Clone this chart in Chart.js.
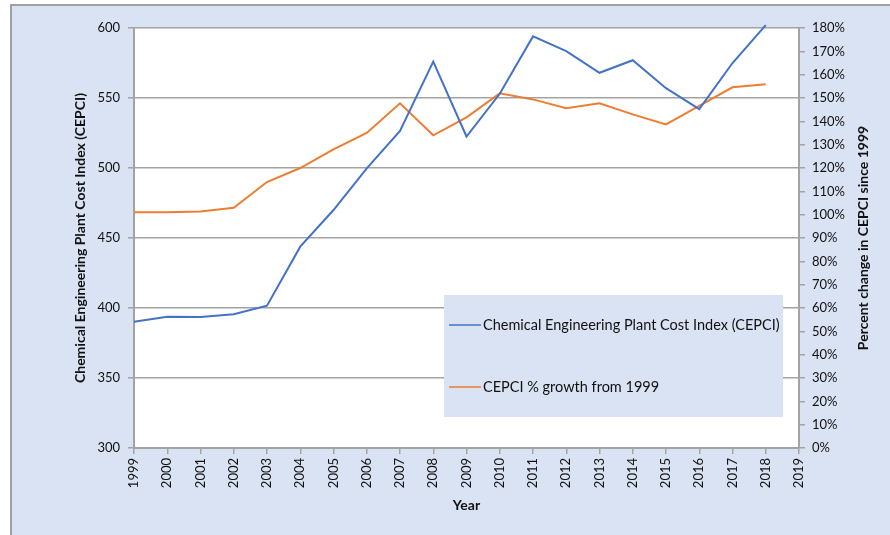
<!DOCTYPE html>
<html>
<head>
<meta charset="utf-8">
<title>CEPCI</title>
<script src="https://cdn.jsdelivr.net/npm/chart.js@4/dist/chart.umd.min.js"></script>
<style>
    html, body { margin: 0; padding: 0; background: #ffffff; }
    #wrap { width: 890px; height: 535px; }
</style>
</head>
<body>
<div id="wrap"><canvas id="cepciChart" width="890" height="535"></canvas></div>
<script>
// Year categories (2019 is an empty slot at the end of the axis)
const years = ["1999", "2000", "2001", "2002", "2003", "2004", "2005", "2006", "2007", "2008",
               "2009", "2010", "2011", "2012", "2013", "2014", "2015", "2016", "2017", "2018", "2019"];

// Chemical Engineering Plant Cost Index, left axis
const cepci = [390.2, 393.8, 393.5, 395.5, 401.7, 443.8, 470.0, 499.8, 526.5, 576.0,
               522.5, 553.0, 594.0, 583.5, 568.0, 577.0, 557.0, 542.0, 575.0, 602.0];

// CEPCI % growth from 1999, right axis
const growthPct = [101.0, 101.0, 101.4, 103.0, 114.0, 120.0, 128.0, 135.0, 147.7, 134.0,
                   141.7, 152.0, 149.4, 145.6, 147.7, 143.0, 138.7, 146.6, 154.6, 155.9];

const seriesNames = ["Chemical Engineering Plant Cost Index (CEPCI)", "CEPCI % growth from 1999"];
const leftTitle = "Chemical Engineering Plant Cost Index (CEPCI)";
const rightTitle = "Percent change in CEPCI since 1999";
const xTitle = "Year";

const BLUE = "#4472c4";
const ORANGE = "#ed7d31";
const PANEL = "#dae3f3";
const GRID = "#a3a3a3";
const TEXT = "#111111";
const FONT = "Lato, 'Open Sans', sans-serif";

Chart.defaults.font.family = FONT;
Chart.defaults.color = TEXT;

// panel background + white plot area
const backgroundPlugin = {
    id: "panelBackground",
    beforeDraw(chart) {
        const { ctx, chartArea, width, height } = chart;
        ctx.save();
        ctx.fillStyle = "#ffffff";
        ctx.fillRect(0, 0, width, height);
        ctx.fillStyle = PANEL;
        ctx.fillRect(11, 5, width - 11, height - 5);
        ctx.strokeStyle = "#a0a0a0";
        ctx.lineWidth = 2;
        ctx.beginPath();
        ctx.moveTo(11, height);
        ctx.lineTo(11, 5);
        ctx.lineTo(width, 5);
        ctx.stroke();
        ctx.fillStyle = "#ffffff";
        ctx.fillRect(chartArea.left, chartArea.top, chartArea.right - chartArea.left, chartArea.bottom - chartArea.top);
        ctx.restore();
    }
};

// legend box inside the plot + right axis title (reads bottom to top)
const overlayPlugin = {
    id: "overlay",
    afterDraw(chart) {
        const { ctx, chartArea } = chart;
        ctx.save();

        const bx = 444, by = 295, bw = 339, bh = 122;
        ctx.fillStyle = PANEL;
        ctx.fillRect(bx, by, bw, bh);

        const rows = [325, 387];
        chart.data.datasets.forEach((ds, i) => {
            ctx.strokeStyle = ds.borderColor;
            ctx.lineWidth = 1.5;
            ctx.beginPath();
            ctx.moveTo(449, rows[i]);
            ctx.lineTo(481, rows[i]);
            ctx.stroke();
            ctx.fillStyle = TEXT;
            ctx.font = "14.5px " + FONT;
            ctx.textBaseline = "middle";
            ctx.textAlign = "left";
            ctx.fillText(ds.label, 483, rows[i]);
        });

        ctx.translate(863, (chartArea.top + chartArea.bottom) / 2);
        ctx.rotate(-Math.PI / 2);
        ctx.font = "bold 14px " + FONT;
        ctx.textAlign = "center";
        ctx.textBaseline = "middle";
        ctx.fillStyle = TEXT;
        ctx.fillText(rightTitle, 0, 0);
        ctx.restore();
    }
};

const tickFont = { size: 13 };

const ctx = document.getElementById("cepciChart").getContext("2d");
const chart = new Chart(ctx, {
    type: "line",
    data: {
        labels: years,
        datasets: [
            {
                label: seriesNames[0],
                data: cepci,
                yAxisID: "y",
                borderColor: BLUE,
                backgroundColor: BLUE,
                borderWidth: 2,
                pointRadius: 0,
                tension: 0,
                clip: false
            },
            {
                label: seriesNames[1],
                data: growthPct,
                yAxisID: "y1",
                borderColor: ORANGE,
                backgroundColor: ORANGE,
                borderWidth: 2,
                pointRadius: 0,
                tension: 0
            }
        ]
    },
    options: {
        responsive: false,
        animation: false,
        devicePixelRatio: 1,
        layout: { padding: { top: 28, left: 0, right: 0, bottom: 0 } },
        plugins: {
            legend: { display: false },
            tooltip: { enabled: false }
        },
        scales: {
            x: {
                type: "category",
                offset: false,
                grid: { offset: false, drawOnChartArea: false, drawTicks: true, tickLength: 6, color: GRID, lineWidth: 1.5 },
                border: { display: true, color: GRID, width: 2 },
                ticks: { autoSkip: false, minRotation: 90, maxRotation: 90, padding: 4, font: tickFont },
                title: { display: true, text: xTitle, font: { size: 14, weight: "bold" }, padding: { top: 0, bottom: 21 } },
                afterFit(scale) { scale.height = 87; }
            },
            y: {
                position: "left",
                min: 300,
                max: 600,
                ticks: { stepSize: 50, padding: 8, font: tickFont },
                grid: { color: GRID, lineWidth: 1.5, tickLength: 6 },
                border: { display: true, color: GRID, width: 2 },
                title: { display: true, text: leftTitle, font: { size: 14, weight: "bold" }, padding: { top: 72, bottom: 0 } },
                afterFit(scale) { scale.width = 134; }
            },
            y1: {
                position: "right",
                min: 0,
                max: 180,
                ticks: { stepSize: 10, padding: 7, font: tickFont, callback: v => v + "%" },
                grid: { drawOnChartArea: false, color: GRID, lineWidth: 1.5, tickLength: 6 },
                border: { display: true, color: GRID, width: 2 },
                afterFit(scale) { scale.width = 91; }
            }
        }
    },
    plugins: [backgroundPlugin, overlayPlugin]
});
</script>
</body>
</html>
